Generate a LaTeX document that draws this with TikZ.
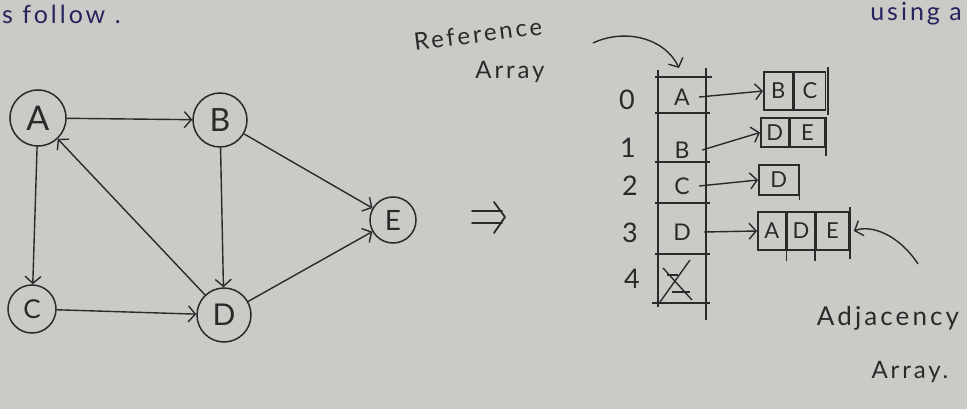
\documentclass[tikz,border=0pt]{standalone}
\usepackage{fontspec}
\setmainfont{Lato}
\newfontfamily\handfont[LetterSpace=12]{Lato}
\usetikzlibrary{arrows.meta}
\definecolor{paper}{RGB}{204,202,199}
\definecolor{ink}{RGB}{42,42,42}
\definecolor{blueink}{RGB}{38,36,92}
\tikzset{
  vert/.style={circle, draw=ink, line width=1.5pt, inner sep=0pt, text=ink},
  edge/.style={draw=ink, line width=1.4pt, -{Straight Barb[length=7pt,width=16pt,line width=1.4pt]}},
  hand/.style={text=ink, inner sep=0pt},
  cellbox/.style={draw=ink, line width=1.6pt, rectangle, inner sep=0pt, anchor=west, text=ink, font=\handfont\fontsize{22}{22}\selectfont},
  reflbl/.style={inner sep=0pt, minimum width=46pt, text=ink, font=\handfont\fontsize{23}{23}\selectfont},
  idxlbl/.style={inner sep=0pt, text=ink, font=\handfont\fontsize{27}{27}\selectfont},
  frame/.style={draw=ink, line width=1.6pt}
}
\begin{document}
\begin{tikzpicture}[x=1pt,y=-1pt]
\fill[paper] (0,0) rectangle (967,409);
\useasboundingbox (0,0) rectangle (967,409);

% handwritten fragments at the top
\node[hand, text=blueink, anchor=west, font=\handfont\fontsize{25}{25}\selectfont] (follow) at (2,14) {s follow .};
\node[hand, text=blueink, anchor=east, font=\handfont\fontsize{25}{25}\selectfont] (usinga) at (962,14) {using a};

% graph
\node[vert, minimum size=56pt, font=\handfont\fontsize{34}{34}\selectfont] (A) at (38,118) {A};
\node[vert, minimum size=54pt, font=\handfont\fontsize{32}{32}\selectfont] (B) at (220,120) {B};
\node[vert, minimum size=46pt, font=\handfont\fontsize{28}{28}\selectfont] (E) at (393,220) {E};
\node[vert, minimum size=48pt, font=\handfont\fontsize{26}{26}\selectfont] (C) at (32,309) {C};
\node[vert, minimum size=54pt, font=\handfont\fontsize{30}{30}\selectfont] (D) at (224,315) {D};
\draw[edge] (A) -- (B);
\draw[edge] (A) -- (C);
\draw[edge] (B) -- (D);
\draw[edge] (B) -- (E);
\draw[edge] (C) -- (D);
\draw[edge] (D) -- (A);
\draw[edge] (D) -- (E);

% implies sign
\draw[frame, line width=1.8pt, line cap=round, line join=round] (472,211) -- (502,211) (472,223) -- (502,223) (494,202) -- (505,217) -- (494,233);

% reference array label
\node[hand, rotate=7, font=\handfont\fontsize{24}{24}\selectfont] (reflabel) at (478,34) {Reference};
\node[hand, font=\handfont\fontsize{24}{24}\selectfont] (arrlabel) at (510,72) {Array};
\coordinate (reftail) at (593,43);
\coordinate (refhead) at (679,68);
\draw[edge] (reftail) .. controls (625,28) and (665,38) .. (refhead);

% reference array frame
\draw[frame] (655,77) -- (712,77);
\draw[frame] (655,113) -- (710,113);
\draw[frame] (655,162) -- (710,162);
\draw[frame] (655,203) -- (710,203);
\draw[frame] (655,254) -- (710,254);
\draw[frame] (652,303) -- (710,303);
\draw[frame] (658,70) -- (658,307);
\draw[frame] (706,68) -- (706,320);

\node[reflbl] (r0) at (682,97) {A};
\node[reflbl] (r1) at (682,150) {B};
\node[reflbl] (r2) at (682,186) {C};
\node[reflbl] (r3) at (682,232) {D};
\node[reflbl, minimum height=40pt] (r4) at (682,280) {};
\draw[frame, line width=1.4pt] (660,302) -- (690,260);
\draw[frame, line width=1.4pt] (663,268) -- (692,300);
\draw[frame, line width=1.4pt] (667,275) -- (678,275);
\draw[frame, line width=1.4pt] (672,292) -- (690,292);

\node[idxlbl] (i0) at (627,100) {0};
\node[idxlbl] (i1) at (628,148) {1};
\node[idxlbl] (i2) at (630,186) {2};
\node[idxlbl] (i3) at (630,233) {3};
\node[idxlbl] (i4) at (632,279) {4};

% adjacency arrays
\node[cellbox, minimum width=29pt, minimum height=38pt] (a0b) at (763,91) {B};
\node[cellbox, minimum width=31pt, minimum height=38pt] (a0c) at (a0b.east) {C};
\node[cellbox, minimum width=28pt, minimum height=29pt] (a1d) at (760,132.5) {D};
\node[cellbox, minimum width=34pt, minimum height=29pt] (a1e) at (a1d.east) {E};
\node[cellbox, minimum width=40pt, minimum height=30pt] (a2d) at (758,180) {D};
\node[cellbox, minimum width=28pt, minimum height=38pt] (a3a) at (757,231) {A};
\node[cellbox, minimum width=27pt, minimum height=38pt] (a3d) at (a3a.east) {D};
\node[cellbox, minimum width=33pt, minimum height=38pt] (a3e) at (a3d.east) {E};
% overshooting strokes
\draw[frame] ([xshift=2pt,yshift=4pt]a0c.north east) -- ++(0,48);
\draw[frame] ([xshift=1pt]a1e.north east) -- ++(0,39);
\draw[frame] (a2d.north east) -- ++(0,36);
\draw[frame] (a3a.south east) -- ++(0,10);
\draw[frame] (a3d.south east) -- ++(0,10);
\draw[frame] ([yshift=4pt]a3e.north east) -- ++(0,52);

\draw[edge] ([xshift=-6pt]r0.east) -- (a0b.west);
\draw[edge] ([xshift=-3pt]r1.east) -- (a1d.west);
\draw[edge] ([xshift=-6pt]r2.east) -- (a2d.west);
\draw[edge] ([xshift=-1pt]r3.east) -- (a3a.west);

% adjacency label
\node[hand, font=\handfont\fontsize{26}{26}\selectfont] (adjlabel) at (888,318) {Adjacency};
\node[hand, font=\handfont\fontsize{24}{24}\selectfont] (adjarr) at (910,372) {Array.};
\coordinate (adjtail) at (918,264);
\draw[edge] (adjtail) .. controls (900,236) and (872,224) .. ([xshift=4pt]a3e.east);
\end{tikzpicture}
\end{document}
